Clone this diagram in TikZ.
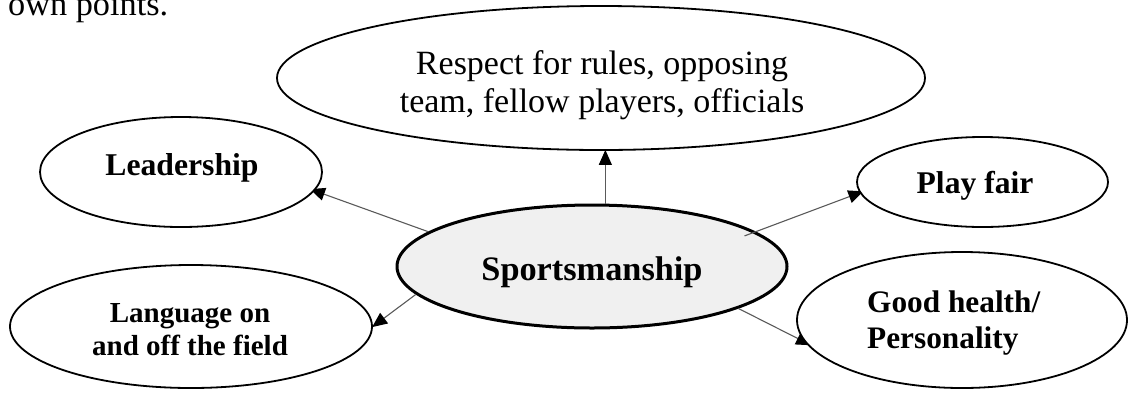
\documentclass[tikz,border=0pt]{standalone}
\usepackage{fontspec}
\setmainfont{Liberation Serif}
\usetikzlibrary{arrows.meta,shapes.geometric}
\definecolor{sportfill}{HTML}{F0F0F0}
\definecolor{linkgray}{HTML}{5A5A5A}
\pgfdeclarelayer{back}
\pgfsetlayers{back,main}
\tikzset{
  oval/.style={ellipse, draw=black, line width=1.8pt, fill=white, inner sep=0pt},
  mainoval/.style={oval, line width=3pt, fill=sportfill},
  conn/.style={draw=linkgray, line width=1.1pt, -{Triangle[length=15pt,width=13pt,color=black]}},
  lbl/.style={anchor=base, inner sep=0pt},
  lblw/.style={anchor=base west, inner sep=0pt},
}
\begin{document}
\begin{tikzpicture}[x=1pt,y=-1pt]
\useasboundingbox (0,0) rectangle (1129,392);
% body text fragment
\node[lblw, font=\fontsize{34.3}{38}\selectfont] (body) at (8,15) {own points.};
% outer ellipses
\node[oval, minimum width=648pt, minimum height=144pt] (respect) at (601,78) {};
\node[oval, minimum width=282pt, minimum height=110pt] (lead) at (181,172) {};
\node[oval, minimum width=251pt, minimum height=90pt] (play) at (982.5,182) {};
\node[oval, minimum width=362pt, minimum height=123pt] (lang) at (191,326.5) {};
\node[oval, minimum width=330pt, minimum height=136pt] (health) at (962,320) {};
% central ellipse and connectors underneath the outer ellipses
\begin{pgfonlayer}{back}
\node[mainoval, minimum width=390pt, minimum height=123pt] (sport) at (592,266.5) {};
\draw[conn, shorten >=-5pt] (sport.168) -- (lead.-8);
\draw[conn, shorten >=-1pt] (sport.78) -- (sport.78 |- respect.south);
\draw[conn, shorten <=-12pt, shorten >=-4pt] (sport.12) -- (play.-175);
\draw[conn, shorten >=-1pt] (sport.-171) -- (lang.0);
\draw[conn, shorten >=-7pt] (sport.-16) -- (health.-172);
\end{pgfonlayer}
% texts
\node[lbl, font=\fontsize{34}{38}\selectfont] (respect1) at (602,74) {Respect for rules, opposing};
\node[lbl, font=\fontsize{34}{38}\selectfont] (respect2) at (602,112) {team, fellow players, officials};
\node[lbl, font=\fontsize{31.7}{36}\selectfont\bfseries] (leadt) at (182,175) {Leadership};
\node[lbl, font=\fontsize{31.6}{36}\selectfont\bfseries] (playt) at (975,193) {Play fair};
\node[lbl, font=\fontsize{34.3}{38}\selectfont\bfseries] (sportt) at (592,280) {Sportsmanship};
\node[lbl, font=\fontsize{29}{33}\selectfont\bfseries] (lang1) at (190,322) {Language on};
\node[lbl, font=\fontsize{29}{33}\selectfont\bfseries] (lang2) at (190,355) {and off the field};
\node[lblw, font=\fontsize{31.3}{36}\selectfont\bfseries] (health1) at (867,312) {Good health/};
\node[lblw, font=\fontsize{31.3}{36}\selectfont\bfseries] (health2) at (867,348) {Personality};
\end{tikzpicture}
\end{document}
